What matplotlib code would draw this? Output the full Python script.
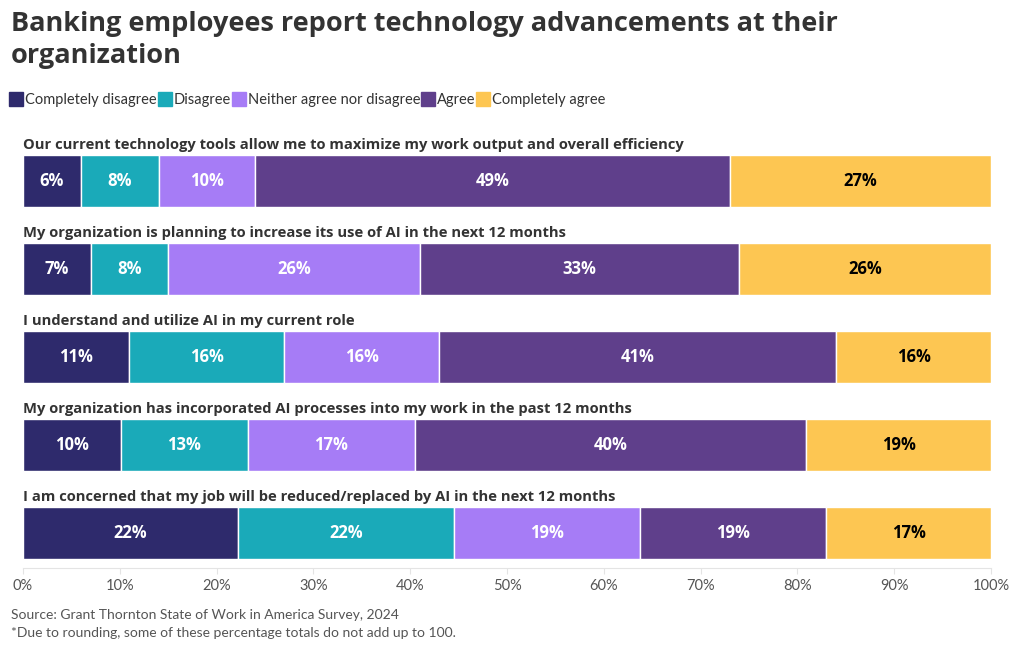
import matplotlib

matplotlib.use("Agg")

import matplotlib.pyplot as plt  # noqa: E402
from matplotlib.lines import Line2D  # noqa: E402

plt.rcParams["font.family"] = ["Lato", "DejaVu Sans"]
BOLD_FONT = ["Open Sans", "DejaVu Sans"]

# Survey data (% of respondents); segment widths
questions = [
    "Our current technology tools allow me to maximize my work output and overall efficiency",
    "My organization is planning to increase its use of AI in the next 12 months",
    "I understand and utilize AI in my current role",
    "My organization has incorporated AI processes into my work in the past 12 months",
    "I am concerned that my job will be reduced/replaced by AI in the next 12 months",
]
responses = ["Completely disagree", "Disagree", "Neither agree nor disagree", "Agree", "Completely agree"]
completely_disagree = [6.0, 7.0, 11.0, 10.1, 22.2]
disagree = [8.0, 8.0, 16.0, 13.1, 22.3]
neither = [10.0, 26.0, 16.0, 17.3, 19.2]
agree = [49.0, 33.0, 41.0, 40.4, 19.3]
completely_agree = [27.0, 26.0, 16.0, 19.1, 17.0]
ticks = [0, 10, 20, 30, 40, 50, 60, 70, 80, 90, 100]

series = [completely_disagree, disagree, neither, agree, completely_agree]
colors = ["#2e2a6c", "#1aaab9", "#a67cf6", "#5f3f8b", "#fdc652"]
label_colors = ["white", "white", "white", "white", "black"]

DARK = "#333333"
MUTED = "#555555"

fig = plt.figure(figsize=(10.2, 6.5), dpi=100)
ax = fig.add_axes([23 / 1020, 1 - 568 / 650, (991 - 23) / 1020, (568 - 130) / 650])

bar_h = 52 / 88
ypos = list(range(len(questions)))
left = [0.0] * len(questions)
for vals, col, lcol in zip(series, colors, label_colors):
    bars = ax.barh(ypos, vals, left=left, height=bar_h, color=col,
                   edgecolor="white", linewidth=1)
    for bar, v in zip(bars, vals):
        ax.text(bar.get_x() + bar.get_width() / 2, bar.get_y() + bar.get_height() / 2,
                f"{v:.0f}%", ha="center", va="center", color=lcol,
                fontsize=12, fontweight="bold", family=BOLD_FONT)
    left = [a + b for a, b in zip(left, vals)]

for y, q in zip(ypos, questions):
    ax.text(0, y - bar_h / 2 - 0.03, q, ha="left", va="bottom", color=DARK,
            fontsize=10.6, fontweight="bold", family=BOLD_FONT)

ax.set_xlim(0, 100)
ax.set_ylim(4 + bar_h / 2 + 0.102, -0.58)
ax.set_xticks(ticks)
ax.set_xticklabels([f"{t}%" for t in ticks])
ax.set_yticks([])
for side in ("top", "right", "left"):
    ax.spines[side].set_visible(False)
ax.spines["bottom"].set_color("#e4e4e4")
ax.tick_params(axis="x", colors="#e4e4e4", labelcolor=MUTED, labelsize=10.5,
               length=4, pad=4)

fig.text(11 / 1020, 1 - 11 / 650,
         "Banking employees report technology advancements at their\norganization",
         ha="left", va="top", fontsize=19.5, fontweight="bold", color=DARK,
         linespacing=1.3, family=BOLD_FONT)

handles = [Line2D([], [], marker="s", linestyle="none", markersize=10,
                  markerfacecolor=c, markeredgecolor=c) for c in colors]
fig.legend(handles, responses, loc="center left", bbox_to_anchor=(4 / 1020, 1 - 100 / 650),
           ncol=5, frameon=False, fontsize=10.5, handlelength=0.7, handletextpad=0.25,
           columnspacing=0.2, borderpad=0, labelcolor=DARK)

fig.text(11 / 1020, 1 - 615 / 650, "Source: Grant Thornton State of Work in America Survey, 2024",
         ha="left", va="center", fontsize=10, color=MUTED)
fig.text(11 / 1020, 1 - 633 / 650, "*Due to rounding, some of these percentage totals do not add up to 100.",
         ha="left", va="center", fontsize=10, color=MUTED)

fig.savefig("out.png", dpi=100)
